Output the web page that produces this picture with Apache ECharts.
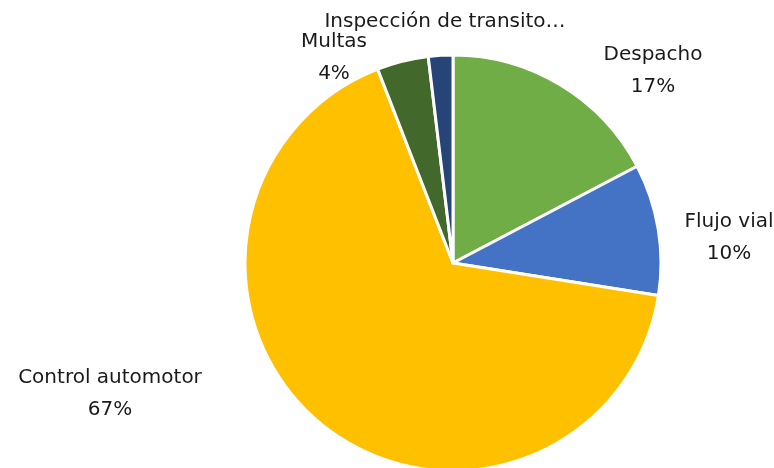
<!DOCTYPE html>
<html>
	<head>
		<meta charset="utf-8">
		<title>pie</title>
		<script src="https://cdn.jsdelivr.net/npm/echarts@6/dist/echarts.min.js"></script>
		<style>
			html, body { margin: 0; padding: 0; background: #fff; }
			#chart { width: 774px; height: 468px; }
		</style>
	</head>
	<body>
		<div id="chart"></div>
		<script>
		    // datos (porcentajes)
		    var categorias = ['Despacho', 'Flujo vial', 'Control automotor', 'Multas', 'Inspección de transito…'];
		    var valores = [17.3, 10.2, 66.6, 4.0, 1.9];
		    var colores = ['#70AD47', '#4472C4', '#FFC000', '#43682B', '#264478'];

		    // posicion de cada etiqueta (centro del bloque de texto)
		    var etiquetas = [[653, 71], [729, 238], [110, 394], [334, 58], [445, 22]];

		    var data = [];
		    for (var i = 0; i < categorias.length; i++) {
		        data.push({name: categorias[i], value: valores[i], itemStyle: {color: colores[i]}});
		    }

		    var chart = echarts.init(document.getElementById('chart'));
		    var option = {
		        animation: false,
		        series: [{
		            type: 'pie',
		            center: [453, 263],
		            radius: 208,
		            startAngle: 90,
		            clockwise: true,
		            avoidLabelOverlap: false,
		            data: data,
		            itemStyle: {
		                borderColor: '#ffffff',
		                borderWidth: 3
		            },
		            label: {
		                show: true,
		                position: 'outside',
		                color: '#1a1a1a',
		                fontFamily: 'DejaVu Sans',
		                fontSize: 20,
		                lineHeight: 32,
		                align: 'center',
		                formatter: function (p) {
		                    if (p.dataIndex === 4) return p.name;
		                    return p.name + '\n' + Math.round(p.value) + '%';
		                }
		            },
		            labelLine: {show: false},
		            labelLayout: function (p) {
		                var pos = etiquetas[p.dataIndex];
		                return {x: pos[0], y: pos[1], align: 'center', verticalAlign: 'middle'};
		            },
		            emphasis: {disabled: true}
		        }]
		    };
		    chart.setOption(option);
		</script>
	</body>
</html>
